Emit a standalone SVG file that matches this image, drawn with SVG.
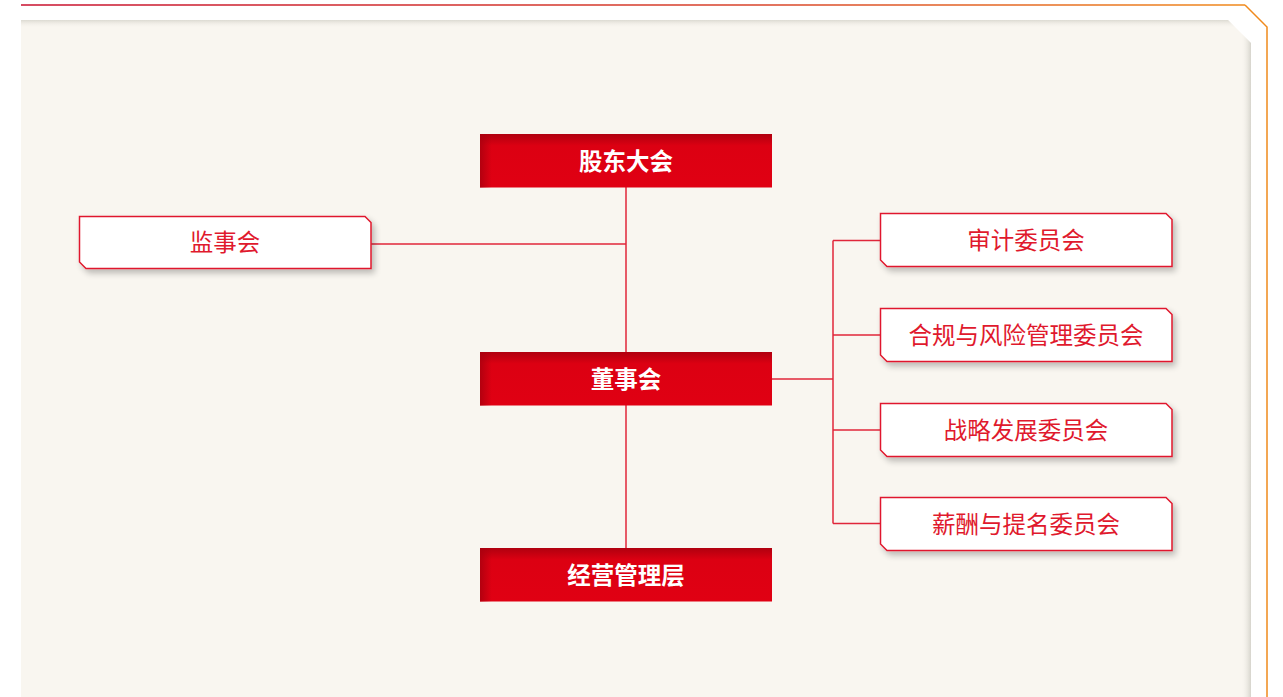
<svg xmlns="http://www.w3.org/2000/svg" width="1283" height="697" viewBox="0 0 1283 697">
<defs>
<linearGradient id="topline" gradientUnits="userSpaceOnUse" x1="21" y1="0" x2="1245" y2="0">
<stop offset="0" stop-color="#c8102e"/>
<stop offset="0.6" stop-color="#d8432a"/>
<stop offset="1" stop-color="#f08a1c"/>
</linearGradient>
<linearGradient id="redV" x1="0" y1="0" x2="0" y2="1">
<stop offset="0" stop-color="#b0000f"/>
<stop offset="0.22" stop-color="#dc0012"/>
<stop offset="1" stop-color="#e00013"/>
</linearGradient>
<linearGradient id="redH" x1="0" y1="0" x2="1" y2="0">
<stop offset="0" stop-color="#a8000e" stop-opacity="0.8"/>
<stop offset="0.04" stop-color="#a8000e" stop-opacity="0"/>
<stop offset="1" stop-color="#a8000e" stop-opacity="0"/>
</linearGradient>
<linearGradient id="topShade" x1="0" y1="0" x2="0" y2="1">
<stop offset="0" stop-color="#dcdad2"/>
<stop offset="1" stop-color="#f9f6f0" stop-opacity="0"/>
</linearGradient>
<linearGradient id="rightShade" x1="1" y1="0" x2="0" y2="0">
<stop offset="0" stop-color="#d6d4cc"/>
<stop offset="1" stop-color="#f9f6f0" stop-opacity="0"/>
</linearGradient>
<filter id="nodeShadow" x="-10%" y="-20%" width="120%" height="150%">
<feGaussianBlur in="SourceAlpha" stdDeviation="3"/>
<feOffset dx="3" dy="4"/>
<feComponentTransfer><feFuncA type="linear" slope="0.25"/></feComponentTransfer>
<feMerge><feMergeNode/><feMergeNode in="SourceGraphic"/></feMerge>
</filter>
</defs>
<style>
.wnode{fill:#ffffff;stroke:#e0192d;stroke-width:1.5}
.wtext{font-family:"Noto Sans CJK SC","Noto Sans",sans-serif;font-size:23.5px;fill:#e0192d;text-anchor:middle;dominant-baseline:central}
.rtext{font-family:"Noto Sans CJK SC","Noto Sans",sans-serif;font-size:23.5px;font-weight:bold;fill:#ffffff;text-anchor:middle;dominant-baseline:central}
.conn{stroke:#e0263a;stroke-width:1.5;fill:none}
</style>
<rect x="0" y="0" width="1283" height="697" fill="#ffffff"/>
<!-- outer frame line -->
<path d="M21,5 L1245,5" fill="none" stroke="url(#topline)" stroke-width="1.5"/>
<path d="M1245,5 L1267,27 L1267,697" fill="none" stroke="#f08a1c" stroke-width="1.5"/>
<!-- panel -->
<path d="M21,20 L1228,20 L1251,43 L1251,697 L21,697 Z" fill="#f9f6f0"/>
<path d="M21,20 L1228,20 L1236,28 L21,28 Z" fill="url(#topShade)"/>
<path d="M1241,33 L1251,43 L1251,697 L1241,697 Z" fill="url(#rightShade)"/>
<g id="connectors">
<line class="conn" x1="626" y1="187" x2="626" y2="352"/>
<line class="conn" x1="626" y1="405" x2="626" y2="548"/>
<line class="conn" x1="371" y1="244" x2="626" y2="244"/>
<line class="conn" x1="772" y1="379" x2="833" y2="379"/>
<line class="conn" x1="833" y1="240.5" x2="833" y2="523.5"/>
<line class="conn" x1="833" y1="240.5" x2="880" y2="240.5"/>
<line class="conn" x1="833" y1="335" x2="880" y2="335"/>
<line class="conn" x1="833" y1="430" x2="880" y2="430"/>
<line class="conn" x1="833" y1="523.5" x2="880" y2="523.5"/>
</g>
<g id="node-gudong">
<rect x="480" y="134" width="292" height="53.5" fill="url(#redV)"/>
<rect x="480" y="134" width="292" height="53.5" fill="url(#redH)"/>
<text class="rtext" x="626" y="160">股东大会</text>
</g>
<g id="node-dongshi">
<rect x="480" y="352" width="292" height="53.5" fill="url(#redV)"/>
<rect x="480" y="352" width="292" height="53.5" fill="url(#redH)"/>
<text class="rtext" x="626" y="378">董事会</text>
</g>
<g id="node-jingying">
<rect x="480" y="548" width="292" height="53.5" fill="url(#redV)"/>
<rect x="480" y="548" width="292" height="53.5" fill="url(#redH)"/>
<text class="rtext" x="626" y="574">经营管理层</text>
</g>
<g id="node-jianshi">
<path class="wnode" filter="url(#nodeShadow)" d="M79.5,216.5 L365,216.5 L371,222.5 L371,268.5 L86,268.5 L79.5,262 Z"/>
<text class="wtext" x="225" y="241">监事会</text>
</g>
<g id="node-shenji">
<path class="wnode" filter="url(#nodeShadow)" d="M880.5,213.5 L1166,213.5 L1172,219.5 L1172,266.5 L887,266.5 L880.5,260 Z"/>
<text class="wtext" x="1026" y="239">审计委员会</text>
</g>
<g id="node-hegui">
<path class="wnode" filter="url(#nodeShadow)" d="M880.5,308.5 L1166,308.5 L1172,314.5 L1172,361.5 L887,361.5 L880.5,355 Z"/>
<text class="wtext" x="1026" y="334">合规与风险管理委员会</text>
</g>
<g id="node-zhanlue">
<path class="wnode" filter="url(#nodeShadow)" d="M880.5,403.5 L1166,403.5 L1172,409.5 L1172,456.5 L887,456.5 L880.5,450 Z"/>
<text class="wtext" x="1026" y="429">战略发展委员会</text>
</g>
<g id="node-xinchou">
<path class="wnode" filter="url(#nodeShadow)" d="M880.5,497.5 L1166,497.5 L1172,503.5 L1172,550.5 L887,550.5 L880.5,544 Z"/>
<text class="wtext" x="1026" y="523">薪酬与提名委员会</text>
</g>
</svg>
